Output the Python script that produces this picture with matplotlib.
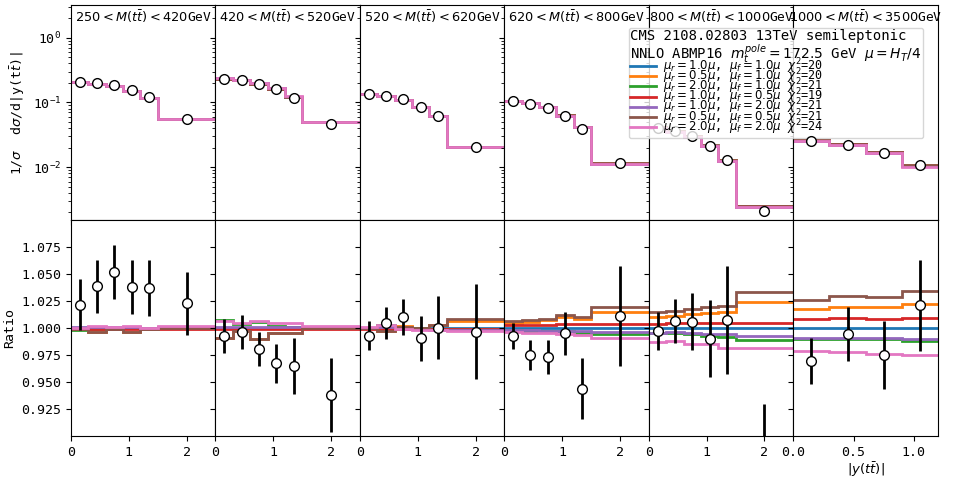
import matplotlib
matplotlib.use('Agg')
import matplotlib.pyplot as plt
from matplotlib.lines import Line2D
import numpy as np

plt.rcParams['font.family'] = 'monospace'
plt.rcParams['font.size'] = 9.5

# bin edges in |y(ttbar)|
edges_main = [0, 0.3, 0.6, 0.9, 1.2, 1.5, 2.5]
edges_last = [0, 0.3, 0.6, 0.9, 1.2]

mass_labels = [r'$250 < M(t\bar{t}) < 420$GeV', r'$420 < M(t\bar{t}) < 520$GeV',
               r'$520 < M(t\bar{t}) < 620$GeV', r'$620 < M(t\bar{t}) < 800$GeV',
               r'$800 < M(t\bar{t}) < 1000$GeV', r'$1000 < M(t\bar{t}) < 3500$GeV']

# central prediction (mu_r = mu_f = 1.0 mu), normalised cross section
central = [
    [0.205, 0.195, 0.177, 0.148, 0.119, 0.0545],
    [0.234, 0.222, 0.196, 0.164, 0.123, 0.0492],
    [0.134, 0.124, 0.110, 0.085, 0.0622, 0.0205],
    [0.106, 0.098, 0.0844, 0.0624, 0.0418, 0.0113],
    [0.0409, 0.0356, 0.0298, 0.0212, 0.0126, 0.00246],
    [0.0259, 0.0224, 0.0167, 0.0104],
]

# data / central prediction and its uncertainty
data_ratio = [
    [1.022, 1.039, 1.052, 1.038, 1.037, 1.023],
    [0.993, 0.9966, 0.9806, 0.9676, 0.965, 0.938],
    [0.993, 1.005, 1.0105, 0.9907, 1.0006, 0.9966],
    [0.993, 0.975, 0.9734, 0.9954, 0.944, 1.0114],
    [0.9975, 1.0068, 1.006, 0.9904, 1.0077, 0.855],
    [0.9697, 0.9944, 0.975, 1.0213],
]
data_err = [
    [0.0235, 0.0245, 0.025, 0.025, 0.026, 0.029],
    [0.016, 0.016, 0.016, 0.018, 0.026, 0.034],
    [0.0136, 0.015, 0.0165, 0.021, 0.029, 0.044],
    [0.012, 0.0138, 0.016, 0.020, 0.0285, 0.046],
    [0.018, 0.0204, 0.0264, 0.036, 0.05, 0.075],
    [0.0216, 0.025, 0.0315, 0.042],
]

# scale variations / central prediction
var_blue = [[1.0] * 6, [1.0] * 6, [1.0] * 6, [1.0] * 6, [1.0] * 6, [1.0] * 4]
var_orange = [
    [0.999, 0.9965, 0.999, 0.9965, 1.0, 1.0],
    [0.9905, 0.9975, 0.990, 0.996, 0.9955, 1.0],
    [1.0, 0.997, 1.002, 1.0, 1.003, 1.0068],
    [1.005, 1.006, 1.0075, 1.010, 1.009, 1.015],
    [1.0108, 1.0114, 1.0136, 1.0145, 1.015, 1.0244],
    [1.018, 1.0198, 1.020, 1.0228],
]
var_green = [
    [0.998, 0.999, 0.999, 1.0, 1.0, 1.0],
    [1.0075, 1.004, 1.006, 1.002, 1.001, 1.001],
    [1.0, 1.003, 1.0, 1.0, 0.999, 0.999],
    [0.998, 0.9975, 0.9975, 0.997, 0.996, 0.995],
    [0.9954, 0.9955, 0.9945, 0.993, 0.992, 0.989],
    [0.9904, 0.9904, 0.9898, 0.9877],
]
var_red = [
    [0.9995, 0.9995, 0.9995, 0.999, 0.9995, 0.9995],
    [0.9995, 0.9995, 0.9995, 0.9995, 0.9995, 0.9995],
    [0.9995, 0.9995, 0.9995, 0.9995, 0.9995, 0.9995],
    [1.003, 1.003, 1.003, 1.0035, 1.0035, 1.0037],
    [1.0037, 1.0046, 1.0046, 1.0046, 1.0046, 1.005],
    [1.0083, 1.0099, 1.009, 1.0099],
]
var_purple = [
    [1.001, 1.001, 1.001, 1.001, 1.0, 1.001],
    [1.001, 1.001, 1.001, 1.001, 1.001, 1.0015],
    [1.0005, 1.001, 1.0, 0.999, 0.998, 0.998],
    [0.998, 0.998, 0.9975, 0.997, 0.997, 0.9965],
    [0.996, 0.9965, 0.996, 0.995, 0.9944, 0.993],
    [0.9914, 0.9914, 0.991, 0.9898],
]
var_brown = [
    [0.9995, 0.9965, 0.9995, 0.9965, 0.9995, 1.0005],
    [0.9905, 0.9975, 0.990, 0.996, 0.9955, 1.0005],
    [1.0, 0.997, 1.001, 1.0005, 1.003, 1.0085],
    [1.0068, 1.008, 1.009, 1.012, 1.0105, 1.020],
    [1.015, 1.016, 1.018, 1.020, 1.021, 1.034],
    [1.026, 1.030, 1.029, 1.0346],
]
var_pink = [
    [1.0005, 1.002, 1.001, 1.002, 1.0005, 1.002],
    [1.007, 1.0045, 1.007, 1.0045, 1.0045, 1.002],
    [1.0015, 1.003, 0.999, 0.998, 0.998, 0.9975],
    [0.9966, 0.996, 0.9955, 0.9945, 0.9935, 0.9907],
    [0.9873, 0.988, 0.985, 0.985, 0.982, 0.982],
    [0.979, 0.9775, 0.9765, 0.975],
]
variations = [var_blue, var_orange, var_green, var_red, var_purple, var_brown, var_pink]
var_labels = [
    r'$\mu_r=1.0\mu$, $\mu_f=1.0\mu$ $\chi^2$=20',
    r'$\mu_r=0.5\mu$, $\mu_f=1.0\mu$ $\chi^2$=20',
    r'$\mu_r=2.0\mu$, $\mu_f=1.0\mu$ $\chi^2$=21',
    r'$\mu_r=1.0\mu$, $\mu_f=0.5\mu$ $\chi^2$=19',
    r'$\mu_r=1.0\mu$, $\mu_f=2.0\mu$ $\chi^2$=21',
    r'$\mu_r=0.5\mu$, $\mu_f=0.5\mu$ $\chi^2$=21',
    r'$\mu_r=2.0\mu$, $\mu_f=2.0\mu$ $\chi^2$=24',
]
colors = ['C0', 'C1', 'C2', 'C3', 'C4', 'C5', 'C6']

fig, axes = plt.subplots(2, 6, figsize=(9.56, 4.79), dpi=100, sharex='col', sharey='row',
                         gridspec_kw=dict(hspace=0, wspace=0))
fig.subplots_adjust(left=0.0743, right=0.981, top=0.9896, bottom=0.0898)

for i in range(6):
    edges = np.array(edges_last if i == 5 else edges_main)
    centers = 0.5 * (edges[1:] + edges[:-1])
    cen = np.array(central[i])
    rat = np.array(data_ratio[i])
    err = np.array(data_err[i])
    top, bot = axes[0, i], axes[1, i]

    for var, c in zip(variations, colors):
        v = np.array(var[i])
        top.stairs(cen * v, edges, color=c, lw=2, baseline=None)
        bot.stairs(v, edges, color=c, lw=2, baseline=None)

    top.errorbar(centers, cen * rat, yerr=cen * err, fmt='o', mfc='white', mec='black',
                 ecolor='black', ms=7, elinewidth=2, zorder=5)
    bot.errorbar(centers, rat, yerr=err, fmt='o', mfc='white', mec='black',
                 ecolor='black', ms=7, elinewidth=2, zorder=5)

    top.text(0.5, 0.945, mass_labels[i], transform=top.transAxes, ha='center', va='center',
             fontsize=9.3)
    top.set_yscale('log')
    bot.set_xlim(edges[0], edges[-1])
    if i < 5:
        bot.set_xticks([0, 1, 2])

axes[0, 0].set_ylim(1.5e-3, 3.2)
axes[1, 0].set_ylim(0.9, 1.1)
axes[1, 0].set_yticks([0.925, 0.95, 0.975, 1.0, 1.025, 1.05, 1.075])
axes[1, 0].set_yticklabels(['%.3f' % t for t in [0.925, 0.95, 0.975, 1.0, 1.025, 1.05, 1.075]])
axes[0, 0].set_ylabel(r'1/$\sigma$  d$\sigma$/d|y(t$\bar{t}$)|')
axes[1, 0].set_ylabel('Ratio')
axes[1, 5].set_xlabel(r'$|y(t\bar{t})|$', labelpad=1)

handles = [Line2D([], [], color=c, lw=2) for c in colors]
leg = axes[0, 5].legend(handles, var_labels, loc='upper left',
                        bbox_to_anchor=(629 / 956, 1 - 28 / 479), bbox_transform=fig.transFigure,
                        borderaxespad=0, fontsize=8.5, labelspacing=-0.8, handlelength=2.2,
                        handletextpad=0.6,
                        title='CMS 2108.02803 13TeV semileptonic\n'
                              r'NNLO ABMP16 $m_t^{pole}=172.5$ GeV $\mu=H_T/4$',
                        title_fontsize=10, alignment='left', borderpad=0.12)
leg.get_title().set_linespacing(0.95)

fig.savefig('out.png', dpi=100)
